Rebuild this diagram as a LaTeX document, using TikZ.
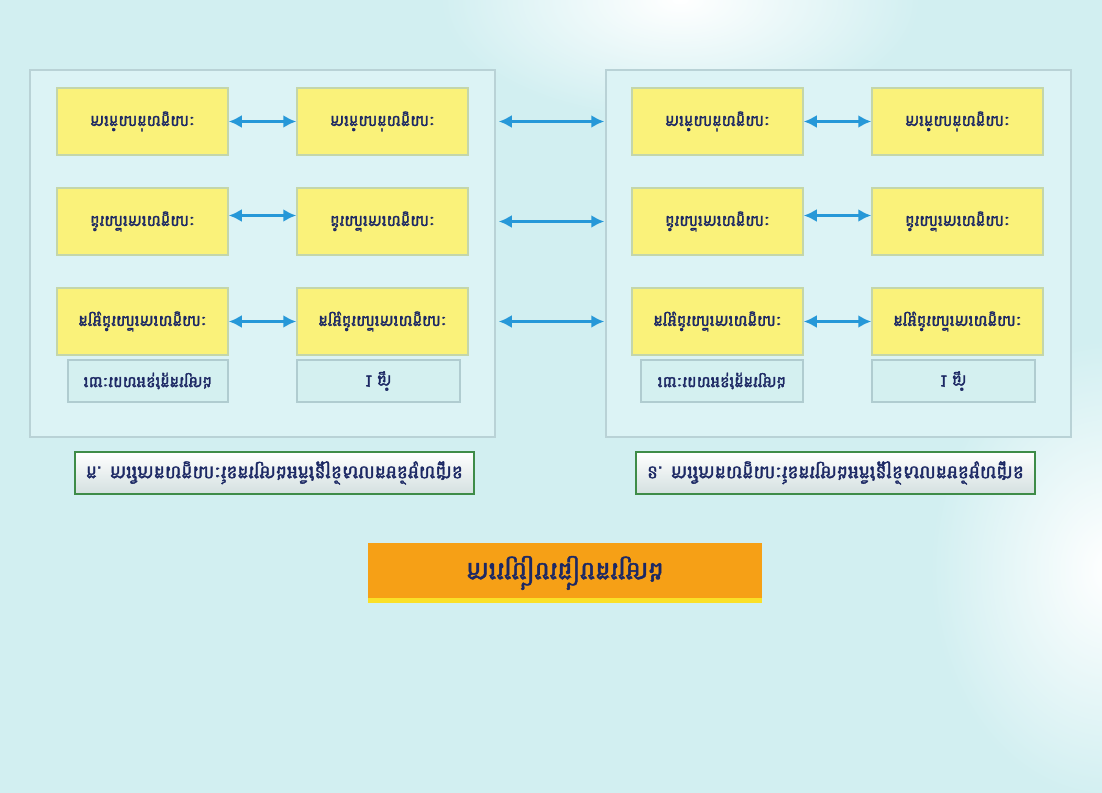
\documentclass[tikz,border=0pt]{standalone}
\usepackage{fontspec}
\usepackage{tikz}
\usetikzlibrary{arrows.meta,calc}
\newfontfamily\khmerfont[Script=Khmer, FakeBold=2]{Battambang}

\definecolor{bgcyan}{RGB}{210,239,241}
\definecolor{panelline}{RGB}{185,210,214}
\definecolor{panelfill}{RGB}{220,243,245}
\definecolor{yboxfill}{RGB}{250,242,122}
\definecolor{yboxline}{RGB}{196,214,170}
\definecolor{hboxfill}{RGB}{212,240,240}
\definecolor{hboxline}{RGB}{176,204,208}
\definecolor{labelline}{RGB}{62,140,72}
\definecolor{labelgrey}{RGB}{212,224,224}
\definecolor{titleorange}{RGB}{246,160,22}
\definecolor{titleedge}{RGB}{250,224,40}
\definecolor{linkblue}{RGB}{38,152,216}
\definecolor{textnavy}{RGB}{28,40,100}

\tikzset{
	panel/.style={draw=panelline, fill=panelfill, line width=0.3mm, minimum width=93mm, minimum height=73.4mm},
	ybox/.style={draw=yboxline, fill=yboxfill, line width=0.3mm, minimum width=34.2mm, minimum height=13.4mm, text=textnavy, font=\khmerfont\fontsize{9}{11}\selectfont},
	hbox/.style={draw=hboxline, fill=hboxfill, line width=0.3mm, minimum height=8.4mm, text=textnavy, font=\khmerfont\fontsize{9}{10}\selectfont},
	label/.style={draw=labelline, top color=white, bottom color=labelgrey, line width=0.35mm, minimum width=79.8mm, minimum height=8.4mm, text=textnavy, font=\khmerfont\fontsize{10.5}{12}\selectfont},
	title/.style={fill=titleorange, minimum width=78.8mm, minimum height=12mm, text=textnavy, font=\khmerfont\fontsize{14.5}{17}\selectfont},
	link/.style={draw=linkblue, line width=0.65mm, arrows={Latex[length=2.6mm,width=2.6mm]-Latex[length=2.6mm,width=2.6mm]}},
}

\begin{document}
\begin{tikzpicture}[x=0.2mm, y=0.2mm, yscale=-1, transform shape]
	\useasboundingbox (0,0) rectangle (1102,793);

	% background
	\fill[bgcyan] (0,0) rectangle (1102,793);
	\begin{scope}
		\clip (0,0) rectangle (1102,793);
		\shade[inner color=white, outer color=bgcyan] (680,0) ellipse (240 and 120);
		\shade[inner color=white, outer color=bgcyan] (1110,570) ellipse (180 and 230);
	\end{scope}

	% the two panels
	\node[panel] (lp) at (262.5,253.5) {};
	\node[panel] (rp) at (838.5,253.5) {};

	% left panel
	\node[ybox] (la1) at (142.5,121.5) {ការកំណត់លក្ខណៈ};
	\node[ybox] (lb1) at (382.5,121.5) {ការកំណត់លក្ខណៈ};
	\node[ybox] (la2) at (142.5,221.5) {ដំណើរការលក្ខណៈ};
	\node[ybox] (lb2) at (382.5,221.5) {ដំណើរការលក្ខណៈ};
	\node[ybox] (la3) at (142.5,321.5) {គម្រូដំណើរការលក្ខណៈ};
	\node[ybox] (lb3) at (382.5,321.5) {គម្រូដំណើរការលក្ខណៈ};
	\node[hbox, minimum width=32mm] (lh1) at (148,381) {រយៈពេលអនុវត្តគម្រោង};
	\node[hbox, minimum width=32.6mm] (lh2) at (378.5,381) {1 ឆ្នាំ};

	% right panel
	\node[ybox] (ra1) at (717.5,121.5) {ការកំណត់លក្ខណៈ};
	\node[ybox] (rb1) at (957.5,121.5) {ការកំណត់លក្ខណៈ};
	\node[ybox] (ra2) at (717.5,221.5) {ដំណើរការលក្ខណៈ};
	\node[ybox] (rb2) at (957.5,221.5) {ដំណើរការលក្ខណៈ};
	\node[ybox] (ra3) at (717.5,321.5) {គម្រូដំណើរការលក្ខណៈ};
	\node[ybox] (rb3) at (957.5,321.5) {គម្រូដំណើរការលក្ខណៈ};
	\node[hbox, minimum width=32.4mm] (rh1) at (722,381) {រយៈពេលអនុវត្តគម្រោង};
	\node[hbox, minimum width=32.6mm] (rh2) at (953.5,381) {1 ឆ្នាំ};

	% panel names and title
	\node[label] (ln) at (274.5,473) {ក. ការវិភាគលក្ខណៈនៃគម្រោងអភិវឌ្ឍន៍សហគមន៍មូលដ្ឋាន};
	\node[label] (rn) at (835.5,473) {ខ. ការវិភាគលក្ខណៈនៃគម្រោងអភិវឌ្ឍន៍សហគមន៍មូលដ្ឋាន};
	\node[title] (top) at (565,573) {ការប្រៀបធៀបគម្រោង};
	\fill[titleedge] ($(top.north west)+(0,-5)$) rectangle (top.north east);

	% links inside the panels
	\draw[link] (la1) -- (lb1);
	\draw[link] ($(la2.east)+(0,-6)$) -- ($(lb2.west)+(0,-6)$);
	\draw[link] (la3) -- (lb3);
	\draw[link] (ra1) -- (rb1);
	\draw[link] ($(ra2.east)+(0,-6)$) -- ($(rb2.west)+(0,-6)$);
	\draw[link] (ra3) -- (rb3);

	% links between the panels
	\draw[link, shorten <=6mm, shorten >=5.4mm] (lb1) -- (ra1);
	\draw[link, shorten <=6mm, shorten >=5.4mm] (lb2) -- (ra2);
	\draw[link, shorten <=6mm, shorten >=5.4mm] (lb3) -- (ra3);
\end{tikzpicture}
\end{document}
